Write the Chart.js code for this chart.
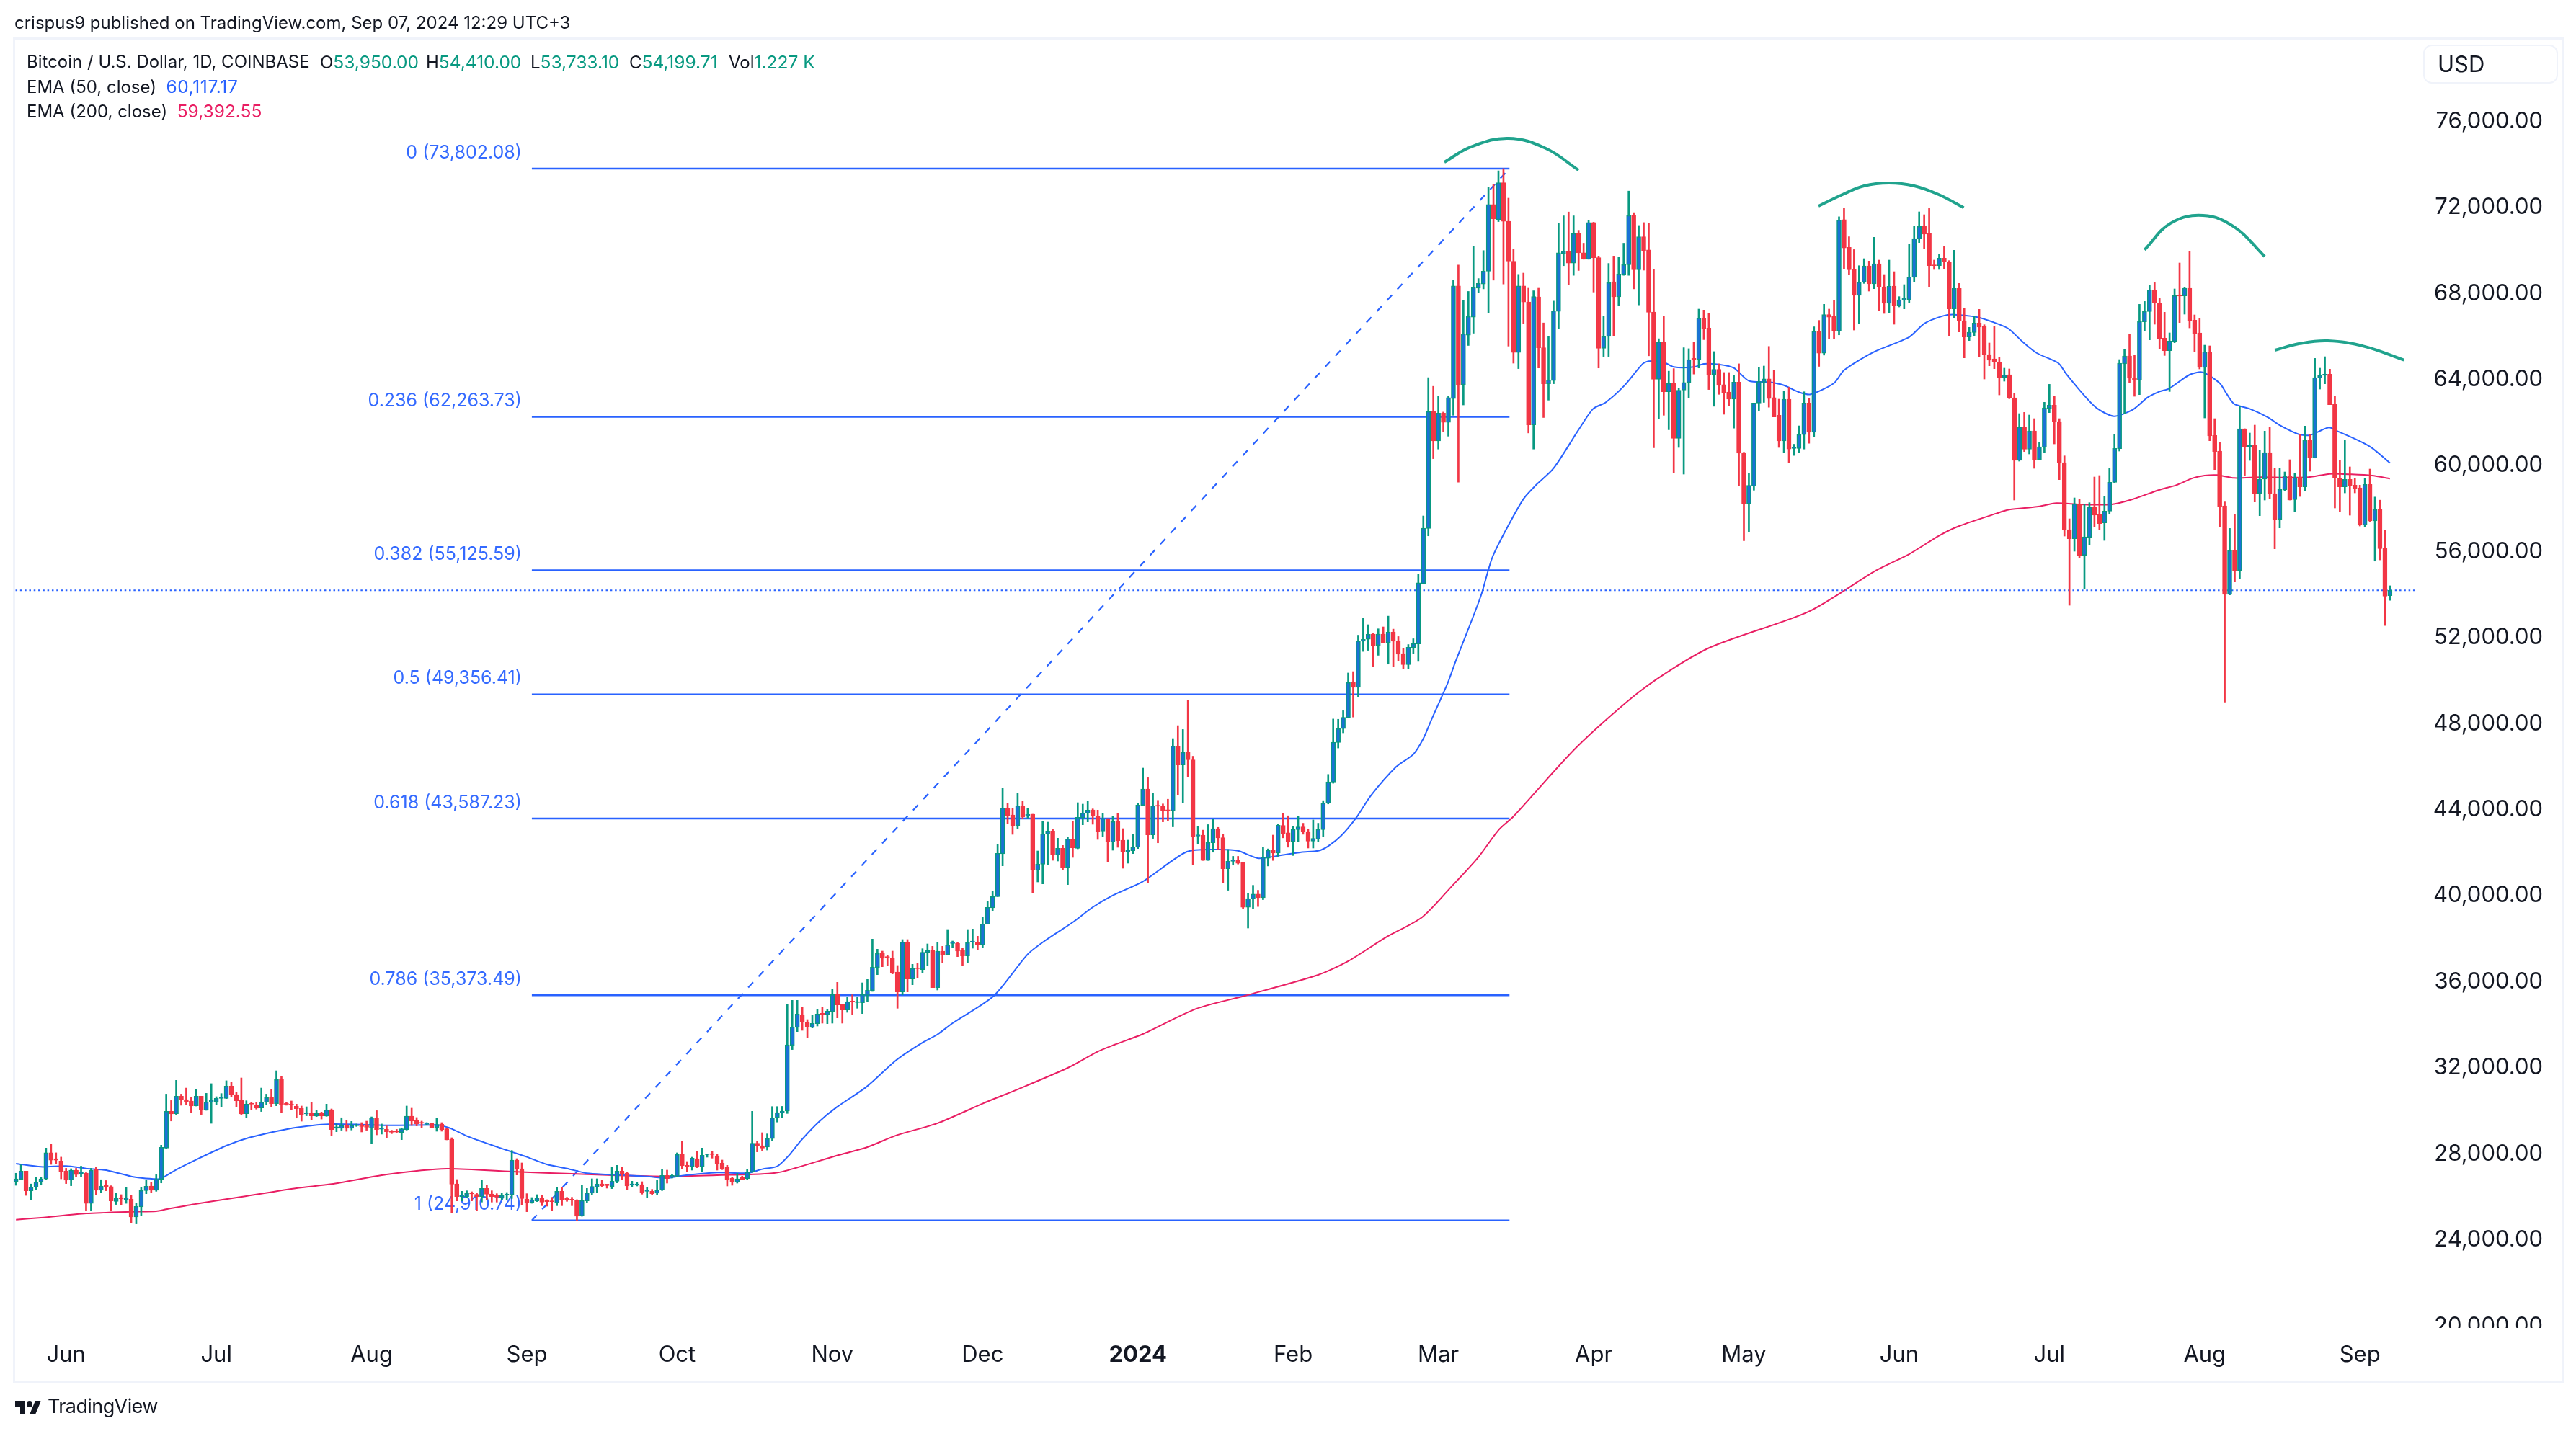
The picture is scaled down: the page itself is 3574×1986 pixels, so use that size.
<!DOCTYPE html>
<html>
<head>
<meta charset="utf-8">
<title>Bitcoin / U.S. Dollar</title>
<script src="https://cdn.jsdelivr.net/npm/chart.js@4/dist/chart.umd.min.js"></script>
<style>
    html, body { margin: 0; padding: 0; background: #fff; width: 3574px; height: 1986px; overflow: hidden; }
    body { font-family: Inter, "Noto Sans", sans-serif; color: #131722; position: relative; }
    #btc-chart { position: absolute; left: 0; top: 0; }
    #frame { position: absolute; left: 18px; top: 52px; width: 3533px; height: 1861px; border: 3px solid #f0f3fa; }
    .txt { position: absolute; white-space: pre; font-size: 24px; line-height: 30px; }
    .up, .blue, .pink { font-size: 24.5px; }
    .up { color: #089981; }
    .blue { color: #2962ff; letter-spacing: 0.6px; }
    .pink { color: #e91e63; }
    #usd { position: absolute; left: 3362px; top: 62px; width: 183px; height: 50px; border: 2px solid #f0f3fa; border-radius: 12px; font-size: 31px; line-height: 50px; text-indent: 18px; }
    #logo { position: absolute; left: 20px; top: 1941px; width: 38px; height: 22px; }
    #logo-text { position: absolute; left: 66px; top: 1934px; font-size: 27px; line-height: 36px; letter-spacing: -0.6px; }
</style>
</head>
<body>
<div id="frame"></div>
<canvas id="btc-chart" width="3574" height="1986"></canvas>

<div class="txt" style="left:20px;top:17px">crispus9 published on TradingView.com, Sep 07, 2024 12:29 UTC+3</div>
<div class="txt" style="left:37px;top:71px">Bitcoin / U.S. Dollar, 1D, COINBASE</div>
<div class="txt" style="left:444px;top:71px">O<span class="up">53,950.00</span></div>
<div class="txt" style="left:591px;top:71px">H<span class="up">54,410.00</span></div>
<div class="txt" style="left:736px;top:71px">L<span class="up">53,733.10</span></div>
<div class="txt" style="left:873px;top:71px">C<span class="up">54,199.71</span></div>
<div class="txt" style="left:1011px;top:71px">Vol<span class="up">1.227 K</span></div>
<div class="txt" style="left:37px;top:105px">EMA (50, close)  <span class="blue">60,117.17</span></div>
<div class="txt" style="left:37px;top:139px">EMA (200, close)  <span class="pink">59,392.55</span></div>

<div id="usd">USD</div>

<svg id="logo" viewBox="0 0 36 22"><path fill="#131722" d="M14 22H7V11H0V4h14v18zM28 22h-8l7.5-18h8L28 22z"/><circle fill="#131722" cx="20" cy="8" r="4"/></svg>
<div id="logo-text">TradingView</div>

<script>
// day index 0 = May 22 2023, one candle per day
let opens = [
    26710,26820,27200,26280,26450,26690,26840,28050,27780,27670,27210,26785,27245,27090,27110,25700,27265,26305,26540,26475,25790,25970,25880,25890,25065,
    25535,26295,26505,26305,26820,28270,29980,29870,30680,30525,30460,30235,30680,30035,30435,30435,30580,30580,31150,30760,30480,29870,30360,30280,30135,
    30405,30615,30335,31450,30345,30315,30215,30115,29855,29880,29755,29880,29755,30055,29185,29185,29355,29185,29310,29330,29310,29200,29680,29150,29140,
    29075,29075,28997,29131,29756,29555,29466,29377,29410,29231,29388,29165,28684,26608,26005,26016,26183,26116,26005,26396,26139,26072,25971,26083,26094,
    27713,27311,25893,25737,25815,25960,25837,25815,25726,26261,25926,25893,25848,25111,25815,26172,26463,26608,26597,26485,26731,27199,27110,26552,26541,
    26574,26261,26262,26172,26317,27000,26931,26965,27981,27467,27400,27780,27400,27970,28015,27914,27568,27378,26876,26686,26898,26842,27154,28495,28383,
    28320,28710,29680,29920,29990,33050,33876,34467,34133,33876,34055,34534,34468,34613,35405,34936,34691,35104,35037,35026,35372,35595,36667,37314,37169,
    37091,36455,35528,37851,36131,36645,36567,37371,37449,35729,37426,37259,37784,37783,37449,37203,37851,37851,37717,38677,39436,39961,41948,44081,43757,
    43255,44181,43723,43790,41189,41468,42864,43009,41892,42205,41312,42640,42205,43623,43835,43991,43712,43009,43589,42495,43455,42585,42026,42093,42250,
    44204,44960,42832,44203,44178,44000,43947,46960,46075,46665,46319,42768,42819,41640,42460,43114,42703,41255,41601,41640,41550,39460,39845,40075,39909,
    41742,42114,41985,43268,42921,42511,43075,43203,42986,42537,42627,43075,44306,45280,47126,47767,48280,49908,49690,51831,51921,52165,51639,52165,51767,
    52254,51844,51254,50741,51536,51703,54515,57072,62515,61140,62440,62007,63113,68347,63756,66059,66896,68242,68437,69035,72130,71427,73147,71352,69498,
    65252,68347,67599,61887,67839,65476,63801,63950,67166,69857,69962,69409,70784,69887,69588,71293,69663,65446,65999,68541,67839,68885,69334,71622,69095,
    70635,70022,67136,64011,65745,63428,63816,61259,63502,63861,64983,64923,66851,66388,64235,64474,63756,63413,63084,63876,60602,58223,59046,62904,63876,
    64026,63158,62336,61140,63084,60795,60795,61439,62904,61543,66239,65222,67016,66941,66253,71427,70141,69110,67913,68520,69280,68443,69380,68308,67538,
    68342,67438,67706,67706,68744,70530,71111,70776,69325,69291,69637,69470,67281,68231,66734,65975,66187,66623,66455,65160,64959,64814,64099,64222,63150,
    60236,61777,60761,61609,60281,60850,62659,62804,62045,60135,57021,56596,58215,55826,56664,58059,57724,57333,57880,59220,60783,64724,65093,64077,63965,
    66678,67158,68163,67560,65919,65339,65774,67918,67884,68241,66756,66165,64557,65283,61397,60672,58126,54006,56049,55122,61710,60850,60928,58706,59365,
    60605,58695,57501,58874,59499,58416,59455,59008,61174,60347,64066,64188,64244,62848,59421,59008,59354,59086,58963,57233,59120,57427,57954,56138,53950
];
let closes = [
    26840,27200,26280,26460,26700,26840,28050,27710,27710,27190,26775,27245,27040,27140,25700,27245,26305,26505,26485,25815,25925,25915,25940,25065,25560,
    26295,26495,26305,26820,28305,29980,29855,30680,30505,30425,30225,30680,30035,30415,30480,30580,30625,31150,30740,30470,29855,30315,30315,30125,30405,
    30615,30335,31450,30300,30300,30280,30100,29835,29910,29770,29880,29770,30045,29130,29255,29330,29185,29330,29355,29275,29240,29680,29130,29185,29030,
    29008,29010,29165,29756,29533,29388,29421,29444,29231,29365,29131,28662,26597,26016,26094,26172,26139,26005,26396,26128,26016,25994,26061,26128,27713,
    27289,25926,25748,25871,25960,25759,25781,25781,26261,25871,25871,25860,25100,25837,26183,26485,26597,26518,26530,26731,27199,27088,26507,26608,26608,
    26206,26295,26150,26317,27000,26853,27000,27970,27445,27400,27802,27378,27936,28003,27970,27546,27322,26820,26708,26842,26809,27154,28495,28361,28271,
    28710,29680,29920,29990,33072,33899,34501,34121,33887,34066,34501,34490,34635,35405,34925,34691,35082,35059,35082,35405,35606,36678,37314,37091,37113,
    36421,35528,37851,36131,36622,36611,37371,37449,35729,37426,37259,37705,37828,37426,37203,37817,37895,37705,38688,39458,39961,41970,44081,43723,43255,
    44181,43656,43779,41189,41468,42875,43009,41892,42205,41312,42640,42227,43645,43846,43980,43701,42986,43589,42495,43444,42562,42026,42138,42272,44215,
    44960,42832,44178,44165,43973,43947,46960,46075,46665,46319,42729,42832,41640,42473,43114,42691,41255,41601,41665,41511,39460,39870,40075,39909,41793,
    42114,41985,43281,42896,42511,43088,43203,42986,42537,42665,43088,44306,45293,47139,47767,48293,49908,49690,51844,51921,52152,51639,52165,51767,52254,
    51831,51229,50741,51549,51716,54546,57087,62515,61140,62440,62007,63158,68347,63756,66119,66926,68272,68466,69035,72130,71457,73147,71352,69498,65252,
    68347,67599,61887,67854,65476,63801,63980,67196,69887,69962,69409,70784,69887,69588,71293,69663,65446,65999,68496,67839,68900,69334,71622,69095,70635,
    69992,67121,64011,65745,63428,63816,61259,63502,63861,64923,64923,66851,66373,64235,64474,63727,63383,63084,63876,60571,58223,59076,62904,63905,64026,
    63113,62261,61140,63084,60765,60840,61439,62904,61543,66239,65222,67016,66896,66253,71412,70111,69095,67913,68526,69280,68443,69380,68286,67538,68331,
    67438,67706,67762,68766,70553,71111,70754,69291,69291,69637,69459,67281,68231,66712,65975,66198,66623,66433,65138,64892,64814,64099,64211,63139,60236,
    61777,60761,61609,60281,60872,62681,62804,62022,60113,57032,56596,58215,55826,56686,58059,57690,57300,57880,59220,60794,64758,65093,64055,63965,66689,
    67158,68163,67549,65897,65339,65785,67895,67873,68241,66734,66142,64557,65283,61375,60649,58104,54006,56049,55122,61710,60850,60928,58706,59365,60605,
    58673,57501,58885,59499,58394,59432,59008,61174,60347,64088,64188,64244,62826,59421,59008,59354,59064,58941,57233,59120,57433,57954,56138,53923,54199.71
];
let highs = [
    27100,27490,27200,26600,26930,26930,28270,28440,28050,27850,27330,27310,27330,27430,27130,27330,27380,26800,26760,26520,26195,26105,26430,26060,25725,
    26450,26775,26665,27030,28405,30780,30480,31420,30780,31060,30650,30985,30680,30815,31265,30660,30805,31400,31330,30860,31530,30470,30390,30415,31060,
    30780,30985,31865,31620,30390,30460,30315,30225,30190,30415,30045,29945,30315,30090,29390,29680,29545,29510,29390,29455,29520,29720,30010,29390,29300,
    29100,29140,29210,30225,30125,29690,29522,29455,29421,29656,29455,29210,28751,26809,26262,26284,26239,26172,26798,26541,26284,26150,26172,26206,28160,
    27780,27579,26150,25971,26105,26094,25871,25982,26429,26429,25982,25982,25871,26530,26396,26842,26842,26764,26597,27400,27467,27378,27132,26731,26664,
    26708,26440,26351,26798,27300,27244,27065,28048,28606,27646,27847,28104,28271,28003,28104,27981,27713,27467,26931,27100,26965,27266,29980,28606,28986,
    28930,30200,30200,30210,34970,35137,35137,34836,34244,34468,34724,34836,34702,35640,35975,34936,35283,35394,35283,35952,36109,37985,37515,37426,37225,
    37426,36757,37962,37962,36812,36846,37538,37761,37650,37851,37650,38431,37895,37828,37560,38431,38454,38119,38990,39726,40195,42406,44985,44293,44058,
    44750,44393,44058,43790,42082,43455,43422,43087,42674,42339,42741,43455,44326,44259,44415,44036,43980,43813,43589,43679,43813,43120,42585,42841,44290,
    45934,45486,44780,44434,44268,44486,47306,47908,47729,49075,46486,43242,43050,43306,43562,43178,42857,42152,41832,41832,41550,40127,40486,40255,42242,
    42178,42819,43332,43844,43716,43242,43690,43370,43075,43524,43370,44421,45640,48216,48203,48601,50357,50421,52113,52895,52600,52216,52408,52498,52998,
    52395,52049,51485,51677,51947,54964,57656,64086,63681,63233,62485,63233,68616,69319,67674,68093,70186,68691,69992,72923,73057,73700,73802,72429,70067,
    68885,68945,68242,68123,68242,66628,65999,67644,71263,71607,71786,71607,70934,70336,71383,71308,69738,66941,69394,69737,69693,70336,72758,71756,71158,
    71293,71263,69110,65894,66926,64385,64504,63577,65476,65431,65745,67270,67226,67076,65297,64728,64325,64325,64205,64728,60616,59644,62904,64579,64624,
    65536,64430,63084,63458,63637,60990,61843,63428,63114,66448,66747,67495,67270,67689,71562,71980,70635,70037,69289,69615,69503,70609,69548,68878,69548,
    69012,67851,68409,70285,71122,71792,71658,71948,69548,69838,70173,69526,70006,68465,67326,66422,66924,67259,66544,65696,66455,65026,64524,64490,63351,
    62413,62469,62346,62179,61095,62938,63775,63217,62179,60448,57523,58494,58449,58193,58271,59466,59533,58561,59868,61431,64925,65394,66120,65115,67493,
    67627,68375,68498,67761,67125,66165,68208,69414,68297,69972,67002,66834,65595,65562,62179,61073,58305,57076,57746,62748,61710,61509,61877,60705,61598,
    61799,59868,59868,59700,60270,59622,61431,61833,61431,64981,64524,65059,64479,63217,60236,61163,59935,59421,59086,59421,59834,58535,58389,57010,54410
];
let lows = [
    26540,26800,26070,25850,26350,26550,26790,27510,27545,26840,26620,26520,26920,26950,25370,25345,26105,26215,26285,25370,25650,25615,25700,24810,24745,
    25145,26150,26215,26260,26650,28260,29530,29800,30260,30300,29900,30225,29835,30025,29420,30300,30170,30570,30640,30200,29835,29700,30035,30080,29970,
    30300,30200,30235,29925,30260,30060,29665,29520,29770,29565,29735,29620,29745,28850,29030,29100,29050,29110,29275,29020,29100,28460,28885,28920,28760,
    28940,28964,28662,29109,29321,29299,29198,29343,29220,29053,29053,28651,25256,25815,25815,25982,25815,25346,25759,25848,25759,25759,25871,25871,25926,
    27021,25647,25313,25703,25782,25591,25569,25346,25591,25591,25793,25591,24900,25100,25748,26116,26206,26463,26407,26385,26652,26798,26351,26485,26507,
    26128,25982,26083,26083,26295,26641,26876,26931,27289,27155,27244,27356,27188,27847,27802,27244,27266,26507,26541,26641,26798,26820,27132,28093,28160,
    28180,28600,29480,29670,29880,32850,33686,33742,33407,33854,33943,34077,34054,34077,34322,34077,34579,34490,34769,34523,35082,35551,36332,36701,36734,
    36366,34769,35394,35528,35863,36198,36399,36734,35729,35618,36890,37248,37594,37169,36734,36868,37560,37504,37594,38677,39280,39961,41390,43344,42853,
    43098,43589,43612,40139,40642,40552,41423,41647,41613,41222,40519,41781,42183,43299,43433,43322,42618,42752,41580,42116,42250,41278,41513,41959,42194,
    44178,40614,42665,42460,43434,43498,43203,44690,44332,45524,41447,42408,41640,41640,42024,42152,40614,40255,41422,41473,39396,38499,39396,39498,39819,
    41383,41640,41832,42691,42255,41870,42511,42857,42217,42217,42511,42729,44268,45229,46870,47575,48267,48306,49255,51357,51408,50639,51178,51767,50767,
    50639,50921,50549,50562,51254,50895,54500,56729,60317,60765,61588,61364,62336,59226,62815,65580,66149,68048,68212,67106,68616,71338,68437,65551,64758,
    64504,66597,61514,60765,64534,62231,63039,63801,66373,69289,68392,68840,69065,69588,69588,68063,64534,65072,65072,66029,67420,68840,68840,68212,67465,
    69080,65100,60825,62156,62336,61663,59644,60840,59600,63129,64250,64534,65850,63532,62754,63308,62381,62784,61738,59046,56504,56907,58852,62560,62934,
    62710,62261,60840,60616,60138,60467,60586,60765,61035,61334,64609,65132,65880,65880,66074,69140,68885,66298,66597,68465,68108,68220,67203,67069,67103,
    66567,67371,67282,67572,68554,70363,70095,68320,69113,69113,69157,66042,66880,66210,65004,65808,66009,65071,64021,64635,64501,63284,63921,63105,58394,
    60203,60649,60538,59868,60259,60616,62458,61006,59343,56719,53503,56016,55714,54285,56295,57155,57032,56518,57768,59198,60672,62413,63865,63217,63295,
    66265,65841,66567,65428,65115,63440,65707,66645,67036,66399,65305,64490,62212,61152,59812,57132,49000,53983,54586,54754,59533,60236,58305,57668,58394,
    58472,56127,57099,58807,58394,57836,58561,58807,59734,60347,63552,63798,62826,58026,57858,58729,57690,58729,57188,57132,57378,55557,55612,52562,53733.10
];

// EMA readings, day index + value
let ema50Days = [0,5,10,14,18,23,25,28,29,32,36,42,46,52,56,63,74,84,85,87,90,96,99,102,106,110,114,118,126,130,133,140,146,149,152,154.3,156.7,160.3,163.9,169.8,175.8,180.6,184,187,195.3,202,205.9,211,215,219,225,233.8,240,244,248,252,256.6,260,262,264.6,267.6,270.5,275.6,279,281,282.6,285.9,287.4,290,292.5,294.7,297.2,301,303.3,307,312,314.9,317.4,321,324.8,326,329,331,335,337,340,343,346,350,353,356,358.3,363,365,370.7,378,381,384.8,387,391.5,395,397.8,400.6,403.5,407.8,409.3,412.9,415.5,418.9,422.7,425.6,428,429.9,434,436.6,440,441.4,442.9,446,449.6,452,455.8,458,461.8,463.5,467.8,470.4,474];
let ema50Values = [27545,27400,27434,27322,27244,26953,26886,26830,26853,27266,27735,28383,28717,29052,29231,29387,29332,29343,29310,29165,28830,28327,28093,27858,27512,27322,27099,27044,26954,26875,26988,27132,27110,27289,27423,27924,28612,29489,30177,31116,32368,33120,33558,34077,35361,37281,37984,38766,39470,40017,40664,42050,42152,42088,41742,41857,42024,42088,42306,42793,43626,44652,45998,46575,47306,48177,49908,50870,52408,53947,55682,56878,58449,59046,59869,61663,62635,62934,63681,64728,64848,64803,64579,64579,64728,64698,64534,63936,63876,63727,63412,63308,63831,64429,65252,65970,66598,66958,67014,66902,66645,66366,65763,65227,64758,64278,63273,62659,62290,62603,63161,63440,63574,64222,64334,63831,63329,62860,62637,62246,61877,61453,61409,61766,61598,61152,60817,60117.17];
let ema200Days = [0,5,14,23,28,30,36,46,56,63,74,86,99,112,120,130,140,149,153,163.9,169.8,175.8,184,193,200,210,216,219.3,225,235.6,245.5,260,266,273.4,280.8,286.6,291.9,296,299,311.6,324.7,337.8,358,371.4,378,384,388,395.4,398,403.5,407.4,412,418.4,422.7,427.9,431.3,434.7,437,439.5,442.9,448,452.9,457.7,462,466.3,470.4,474];
let ema200Values = [24944,25033,25234,25313,25335,25424,25680,26038,26406,26596,27043,27311,27177,27066,26999,26954,27010,27066,27172,27924,28299,28863,29426,30340,31000,32000,32760,33072,33574,34742,35358,36319,36960,38050,39011,40421,41768,43050,43690,46906,49585,51494,53215,55123,55882,56742,57188,57769,57947,58081,58249,58193,58193,58438,58863,59086,59421,59533,59555,59421,59455,59443,59455,59611,59589,59533,59392.55];

// fib retracement drawing
let fibNames = ['0','0.236','0.382','0.5','0.618','0.786','1'];
let fibLevels = [73802.08,62263.73,55125.59,49356.41,43587.23,35373.49,24910.74];
let fibDays = [103,298.2];
let lastClose = 54199.71;

// the four hand drawn domes, day index + price
let domeDays = [
    [285.2,290.6,298,305.4,312],
    [359.9,364.7,369,374,379,383.9,388.9],
    [425,430.2,436.7,443,449],
    [451,456,461.6,468.8,476.8]
];
let domePrices = [
    [74104,74822,75210,74747,73730],
    [72060,72596,73000,73132,73000,72596,71982],
    [70026,71260,71624,71079,69717],
    [65361,65669,65796,65542,64907]
];

let yTicks = [20000,24000,28000,32000,36000,40000,44000,48000,52000,56000,60000,64000,68000,72000,76000];
let monthLabels = ['Jun','Jul','Aug','Sep','Oct','Nov','Dec','2024','Feb','Mar','Apr','May','Jun','Jul','Aug','Sep'];
let monthDays = [10,40,71,102,132,163,193,224,255,284,315,345,376,406,437,468];

let green = '#089981';
let upFill = '#1a72d6';
let red = '#f23645';
let blue = '#2962ff';
let pink = '#e91e63';
let axisFont = 'Inter, "Noto Sans", sans-serif';

function toPoints(xs, ys) {
    return xs.map(function (x, i) { return { x: x, y: ys[i] }; });
}

function isUp(i) {
    return closes[i] >= opens[i];
}

let datasets = [];

// candles
datasets.push({
    type: 'bar',
    label: 'wicks',
    data: opens.map(function (o, i) { return { x: i, y: [lows[i], highs[i]] }; }),
    backgroundColor: opens.map(function (o, i) { return isUp(i) ? green : red; }),
    barThickness: 2,
    grouped: false,
    order: 2
});
datasets.push({
    type: 'bar',
    label: 'bodies',
    data: opens.map(function (o, i) { return { x: i, y: [o, closes[i]] }; }),
    backgroundColor: opens.map(function (o, i) { return isUp(i) ? upFill : red; }),
    borderColor: opens.map(function (o, i) { return isUp(i) ? green : red; }),
    borderWidth: 1.5,
    borderSkipped: false,
    barThickness: 6,
    grouped: false,
    order: 1
});

// EMA lines
datasets.push({ type: 'line', label: 'EMA 50', data: toPoints(ema50Days, ema50Values), borderColor: blue, borderWidth: 2, pointRadius: 0, tension: 0.25, order: 4 });
datasets.push({ type: 'line', label: 'EMA 200', data: toPoints(ema200Days, ema200Values), borderColor: pink, borderWidth: 2, pointRadius: 0, tension: 0.25, order: 4 });

// fib lines
for (let i = 0; i < fibLevels.length; i++) {
    datasets.push({ type: 'line', label: 'fib ' + fibNames[i], data: toPoints(fibDays, [fibLevels[i], fibLevels[i]]), borderColor: blue, borderWidth: 2.5, pointRadius: 0, order: 5 });
}
datasets.push({ type: 'line', label: 'fib trend', data: toPoints(fibDays, [fibLevels[6], fibLevels[0]]), borderColor: blue, borderWidth: 2.2, borderDash: [10, 11], pointRadius: 0, order: 5 });

// last price line
datasets.push({ type: 'line', label: 'last', data: toPoints([-1, 480], [lastClose, lastClose]), borderColor: blue, borderWidth: 2, borderDash: [2.5, 3.8], pointRadius: 0, order: 3 });

// domes
for (let i = 0; i < domeDays.length; i++) {
    datasets.push({ type: 'line', label: 'dome ' + i, data: toPoints(domeDays[i], domePrices[i]), borderColor: 'rgba(8,153,129,0.9)', borderWidth: 4, pointRadius: 0, tension: 0.4, order: 0 });
}

let fibLabelPlugin = {
    id: 'fibLabels',
    beforeDatasetsDraw: function (chart) {
        let c = chart.ctx;
        let xs = chart.scales.x;
        let ys = chart.scales.y;
        c.save();
        c.font = '25px ' + axisFont;
        c.fillStyle = 'rgba(41,98,255,0.95)';
        c.textAlign = 'right';
        c.textBaseline = 'middle';
        for (let i = 0; i < fibLevels.length; i++) {
            let text = fibNames[i] + ' (' + fibLevels[i].toLocaleString('en-US', { minimumFractionDigits: 2, maximumFractionDigits: 2 }) + ')';
            c.fillText(text, xs.getPixelForValue(fibDays[0]) - 14, ys.getPixelForValue(fibLevels[i]) - 22);
        }
        c.restore();
    },
    // price scale gets cut off by the time axis
    afterDraw: function (chart) {
        let c = chart.ctx;
        c.save();
        c.fillStyle = '#ffffff';
        c.fillRect(chart.chartArea.right + 1, chart.chartArea.bottom, 190, 20);
        c.restore();
    }
};

let myChart = new Chart(document.querySelector('#btc-chart').getContext('2d'), {
    type: 'bar',
    data: { datasets: datasets },
    plugins: [fibLabelPlugin],
    options: {
        responsive: false,
        devicePixelRatio: 1,
        animation: false,
        events: [],
        layout: { padding: { left: 19, top: 53, right: 46, bottom: 43 } },
        plugins: { legend: { display: false }, tooltip: { enabled: false }, title: { display: false } },
        scales: {
            x: {
                type: 'linear',
                offset: false,
                min: -0.46,
                max: 479.2,
                grid: { display: false },
                border: { display: false },
                afterBuildTicks: function (scale) {
                    scale.ticks = monthDays.map(function (d) { return { value: d }; });
                },
                afterFit: function (scale) { scale.height = 100; },
                ticks: {
                    autoSkip: false,
                    maxRotation: 0,
                    padding: 11,
                    color: '#131722',
                    font: function (ctx) {
                        return { family: axisFont, size: 31, weight: monthLabels[ctx.index] === '2024' ? 'bold' : 'normal' };
                    },
                    callback: function (value, index) { return monthLabels[index]; }
                }
            },
            y: {
                type: 'linear',
                position: 'right',
                min: 19908,
                max: 79865,
                grid: { display: false },
                border: { display: false },
                afterBuildTicks: function (scale) {
                    scale.ticks = yTicks.map(function (v) { return { value: v }; });
                },
                afterFit: function (scale) { scale.width = 176; },
                ticks: {
                    crossAlign: 'far',
                    padding: 0,
                    color: '#131722',
                    font: { family: axisFont, size: 31 },
                    callback: function (value) {
                        return value.toLocaleString('en-US', { minimumFractionDigits: 2, maximumFractionDigits: 2 });
                    }
                }
            }
        }
    }
});
</script>
</body>
</html>
